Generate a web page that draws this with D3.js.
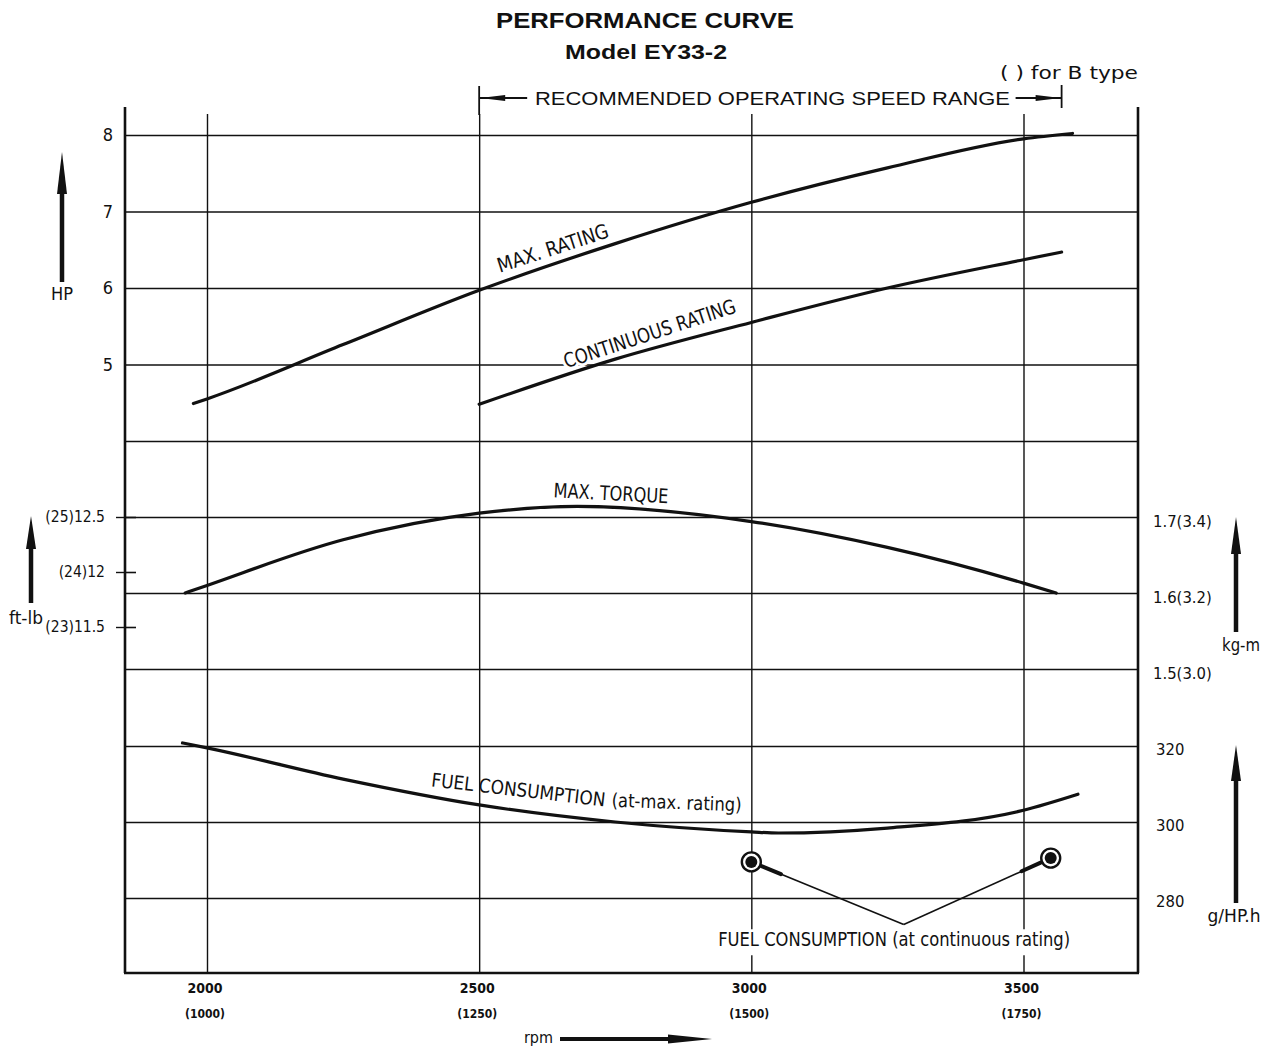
<!DOCTYPE html>
<html><head><meta charset="utf-8">
<script src="https://cdn.jsdelivr.net/npm/d3@7"></script>
<style>
body{margin:0;background:#fff;}
svg{display:block;}
.cond{font-family:'DejaVu Sans Condensed','DejaVu Sans',sans-serif;font-stretch:condensed;fill:#111;}
.helv{font-family:'Liberation Sans',Arial,sans-serif;fill:#111;}
</style></head><body>
<svg id="chart" width="1267" height="1046"></svg>
<script>
// ---------- data ----------
const rpmTicks = [2000, 2500, 3000, 3500];
const rpmLabels = ["2000", "2500", "3000", "3500"];
const rpmSubLabels = ["(1000)", "(1250)", "(1500)", "(1750)"];
const hpGrid = [4, 5, 6, 7, 8];
const hpLabels = ["", "5", "6", "7", "8"];
const ftlbTicks = [12.5, 12, 11.5];
const ftlbLabels = ["(25)12.5", "(24)12", "(23)11.5"];
const kgmTicks = [1.7, 1.6, 1.5];
const kgmLabels = ["1.7(3.4)", "1.6(3.2)", "1.5(3.0)"];
const fuelTicks = [320, 300, 280];
const fuelLabels = ["320", "300", "280"];

const maxRatingRpm = [1975, 2000, 2250, 2500, 2750, 3000, 3250, 3500, 3590];
const maxRatingHp  = [4.49, 4.55, 5.26, 5.97, 6.58, 7.12, 7.57, 7.95, 8.02];
const contRatingRpm = [2500, 2750, 3000, 3250, 3500, 3570];
const contRatingHp  = [4.48, 5.07, 5.55, 6.00, 6.37, 6.47];
const torqueRpm = [1960, 2000, 2250, 2500, 2680, 3000, 3250, 3500, 3560];
const torqueKgm = [1.600, 1.610, 1.670, 1.705, 1.714, 1.694, 1.660, 1.613, 1.600];
const fuelMaxRpm = [1955, 2000, 2250, 2500, 2750, 3000, 3050, 3250, 3500, 3600];
const fuelMaxG   = [320.8, 319.5, 311.3, 304.5, 300.0, 297.4, 297.1, 298.4, 303.1, 307.3];
const fuelContRpm = [3000, 3550];
const fuelContG   = [289.5, 290.5];
const rangeRpm = [2500, 3570];

// ---------- scales ----------
const L = 125, R = 1138, T = 107, B = 973;
const x = d3.scaleLinear([2000, 3500], [207, 1023.5]);
const hp = d3.scaleLinear([4, 8], [441, 135]);
const kgm = d3.scaleLinear([1.5, 1.7], [669, 517]);
const ftlb = d3.scaleLinear([11.5, 12.5], [627, 517]);
const fuel = d3.scaleLinear([280, 320], [898, 746]);

const svg = d3.select("#chart");
const ink = "#111";

// ---------- grid via axes ----------
function styleAxis(g, fs) {
  g.select(".domain").remove();
  g.selectAll(".tick line").attr("stroke", ink).attr("stroke-width", 1.4);
  g.selectAll(".tick text").attr("class", "cond").attr("font-size", fs).attr("fill", ink);
}
svg.append("g").attr("transform", `translate(${L},0)`)
  .call(d3.axisLeft(hp).tickValues(hpGrid).tickSize(-(R - L)).tickPadding(12)
    .tickFormat((d, i) => hpLabels[i]))
  .call(g => styleAxis(g, 18));
svg.append("g").attr("transform", `translate(${R},0)`)
  .call(d3.axisRight(kgm).tickValues(kgmTicks).tickSize(-(R - L)).tickPadding(15)
    .tickFormat((d, i) => kgmLabels[i]))
  .call(g => styleAxis(g, 16.5))
  .call(g => g.selectAll(".tick text").attr("dy", "0.55em"));
svg.append("g").attr("transform", `translate(${R},0)`)
  .call(d3.axisRight(fuel).tickValues(fuelTicks).tickSize(-(R - L)).tickPadding(18)
    .tickFormat((d, i) => fuelLabels[i]))
  .call(g => styleAxis(g, 16.5))
  .call(g => g.selectAll(".tick text").attr("dy", "0.5em"));
svg.append("g").attr("transform", `translate(${L},0)`)
  .call(d3.axisLeft(ftlb).tickValues(ftlbTicks).tickSize(9).tickPadding(11)
    .tickFormat((d, i) => ftlbLabels[i]))
  .call(g => styleAxis(g, 15.5))
  .call(g => g.selectAll(".tick").append("line").attr("x2", 11).attr("stroke", ink).attr("stroke-width", 1.6));
// vertical grid
svg.append("g").attr("transform", `translate(0,${B})`)
  .call(d3.axisBottom(x).tickValues(rpmTicks).tickSize(-(B - T - 7)).tickFormat(""))
  .call(g => styleAxis(g, 13));

// bottom labels
const bl = svg.append("g");
rpmTicks.forEach((d, i) => {
  bl.append("text").attr("class", "cond").attr("x", x(d) - 2).attr("y", 993)
    .attr("text-anchor", "middle").attr("font-size", 14).attr("font-weight", "bold").text(rpmLabels[i]);
  bl.append("text").attr("class", "cond").attr("x", x(d) - 2).attr("y", 1018)
    .attr("text-anchor", "middle").attr("font-size", 12).attr("font-weight", "bold").text(rpmSubLabels[i]);
});

// frame
const fr = svg.append("g").attr("stroke", ink).attr("stroke-width", 2.6).attr("fill", "none");
fr.append("line").attr("x1", L).attr("x2", L).attr("y1", T).attr("y2", B);
fr.append("line").attr("x1", R).attr("x2", R).attr("y1", T).attr("y2", B);
fr.append("line").attr("x1", L - 1).attr("x2", R + 1).attr("y1", B).attr("y2", B);

// ---------- curves ----------
function curve(xs, ys, ys_scale) {
  const pts = xs.map((v, i) => [x(v), ys_scale(ys[i])]);
  svg.append("path").attr("d", d3.line().curve(d3.curveMonotoneX)(pts))
    .attr("fill", "none").attr("stroke", ink).attr("stroke-width", 3.2).attr("stroke-linecap", "round");
}

// curve labels
function label(txt, px, py, ang, len, fs, halo) {
  const t = svg.append("text").attr("class", "cond").attr("font-size", fs)
    .attr("transform", `translate(${px},${py}) rotate(${ang})`)
    .attr("textLength", len).attr("lengthAdjust", "spacingAndGlyphs").text(txt);
  if (halo) t.attr("stroke", "#fff").attr("stroke-width", 6).attr("paint-order", "stroke").attr("stroke-linejoin", "round");
}
label("CONTINUOUS RATING", x(2660), hp(4.95), -18.2, 180, 20, true);

curve(maxRatingRpm, maxRatingHp, hp);
curve(contRatingRpm, contRatingHp, hp);
curve(torqueRpm, torqueKgm, kgm);
curve(fuelMaxRpm, fuelMaxG, fuel);

label("MAX. RATING", x(2538), hp(6.20), -18, 116, 20);
label("MAX. TORQUE", x(2636), kgm(1.726), 3, 115, 20);
label("FUEL CONSUMPTION", x(2411), fuel(309.4), 6.6, 175, 19);
label("(at-max. rating)", x(2743), fuel(304.0), 2, 130, 19);

// fuel consumption at continuous rating
const vx = x(3280), vy = fuel(273);
fuelContRpm.forEach((d, i) => {
  const cx = x(d), cy = fuel(fuelContG[i]);
  const dx = vx - cx, dy = vy - cy, len = Math.hypot(dx, dy);
  const ux = dx / len, uy = dy / len;
  svg.append("line").attr("x1", cx + ux * 10).attr("y1", cy + uy * 10).attr("x2", vx).attr("y2", vy)
    .attr("stroke", ink).attr("stroke-width", 1.6);
  svg.append("line").attr("x1", cx + ux * 11).attr("y1", cy + uy * 11)
    .attr("x2", cx + ux * 32).attr("y2", cy + uy * 32)
    .attr("stroke", ink).attr("stroke-width", 4).attr("stroke-linecap", "round");
  svg.append("circle").attr("cx", cx).attr("cy", cy).attr("r", 9.5)
    .attr("fill", "#fff").attr("stroke", ink).attr("stroke-width", 2.4);
  svg.append("circle").attr("cx", cx).attr("cy", cy).attr("r", 6).attr("fill", ink);
});
const ctx0 = x(2939), cty = fuel(267.3);
svg.append("rect").attr("x", ctx0 - 3).attr("y", cty - 17).attr("width", 358).attr("height", 26).attr("fill", "#fff");
svg.append("text").attr("class", "cond").attr("font-size", 19.5)
  .attr("x", ctx0).attr("y", cty)
  .attr("textLength", 352).attr("lengthAdjust", "spacingAndGlyphs")
  .text("FUEL CONSUMPTION (at continuous rating)");

// ---------- arrows ----------
function vArrow(ax, tip, headEnd, base, hw, sw) {
  svg.append("rect").attr("x", ax - sw / 2).attr("y", headEnd - 2).attr("width", sw).attr("height", base - headEnd + 2).attr("fill", ink);
  svg.append("path").attr("d", `M${ax},${tip} L${ax + hw},${headEnd} L${ax - hw},${headEnd} Z`).attr("fill", ink);
}
function hArrow(y, x0, headStart, tip, hw, sw) {
  svg.append("rect").attr("x", x0).attr("y", y - sw / 2).attr("width", headStart - x0 + 2).attr("height", sw).attr("fill", ink);
  svg.append("path").attr("d", `M${tip},${y} L${headStart},${y - hw} L${headStart},${y + hw} Z`).attr("fill", ink);
}
vArrow(62, 152, 194, 282, 5, 4.5);
vArrow(31, 516, 549, 603, 5, 4.5);
vArrow(1236, 517, 554, 632, 5, 4.5);
vArrow(1236, 745, 781, 903, 5, 4.5);
hArrow(1039, 560, 668, 712, 4.5, 4);

function axisLabel(txt, px, py, fs, len) {
  const t = svg.append("text").attr("class", "cond").attr("font-size", fs).attr("x", px).attr("y", py)
    .attr("text-anchor", "middle").text(txt);
  if (len) t.attr("textLength", len).attr("lengthAdjust", "spacingAndGlyphs");
}
axisLabel("HP", 62, 300, 18, 22);
axisLabel("ft-lb", 26, 624, 17, 34);
axisLabel("kg-m", 1241, 651, 18, 38);
axisLabel("g/HP.h", 1234, 922, 18, 53);
svg.append("text").attr("class", "cond").attr("font-size", 16).attr("x", 553).attr("y", 1043)
  .attr("text-anchor", "end").text("rpm");

// ---------- recommended range bracket ----------
const bx0 = x(rangeRpm[0]), bx1 = x(rangeRpm[1]), by = 98;
const br = svg.append("g");
br.append("line").attr("x1", bx0).attr("x2", bx0).attr("y1", 86).attr("y2", T + 8).attr("stroke", ink).attr("stroke-width", 1.8);
br.append("line").attr("x1", bx1).attr("x2", bx1).attr("y1", 85).attr("y2", 108).attr("stroke", ink).attr("stroke-width", 1.8);
br.append("line").attr("x1", bx0).attr("x2", bx0 + 48).attr("y1", by).attr("y2", by).attr("stroke", ink).attr("stroke-width", 1.8);
br.append("path").attr("d", `M${bx0 + 1},${by} L${bx0 + 26},${by - 3} L${bx0 + 26},${by + 3} Z`).attr("fill", ink);
br.append("line").attr("x1", bx1 - 46).attr("x2", bx1).attr("y1", by).attr("y2", by).attr("stroke", ink).attr("stroke-width", 1.8);
br.append("path").attr("d", `M${bx1 - 1},${by} L${bx1 - 26},${by - 3} L${bx1 - 26},${by + 3} Z`).attr("fill", ink);
svg.append("text").attr("class", "helv").attr("font-size", 19).attr("x", 535).attr("y", 105)
  .attr("textLength", 475).attr("lengthAdjust", "spacingAndGlyphs")
  .text("RECOMMENDED OPERATING SPEED RANGE");
svg.append("text").attr("class", "cond").attr("font-size", 17).attr("x", 1000).attr("y", 79)
  .attr("textLength", 138).attr("lengthAdjust", "spacingAndGlyphs")
  .text("(  ) for B type");

// ---------- title ----------
svg.append("text").attr("class", "helv").attr("font-size", 22).attr("font-weight", "bold")
  .attr("x", 645).attr("y", 28).attr("text-anchor", "middle")
  .attr("textLength", 298).attr("lengthAdjust", "spacingAndGlyphs").text("PERFORMANCE CURVE");
svg.append("text").attr("class", "helv").attr("font-size", 21).attr("font-weight", "bold")
  .attr("x", 646).attr("y", 59).attr("text-anchor", "middle")
  .attr("textLength", 162).attr("lengthAdjust", "spacingAndGlyphs").text("Model EY33-2");
</script>
</body></html>
